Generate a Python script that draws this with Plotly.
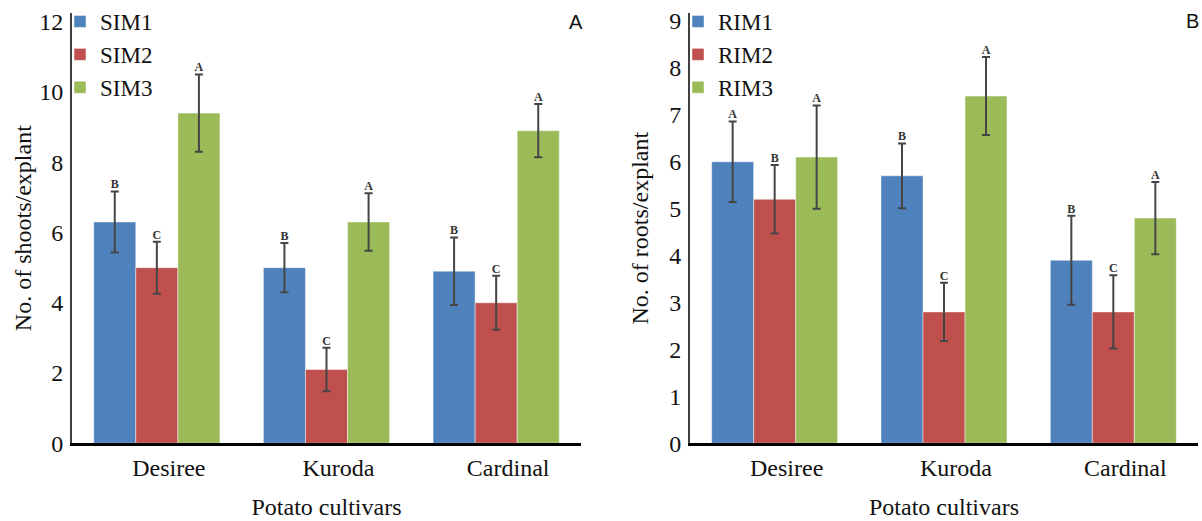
import plotly.graph_objects as go

cultivars = ["Desiree", "Kuroda", "Cardinal"]

# Panel A: shoots per explant
sim_names = ["SIM1", "SIM2", "SIM3"]
sim_values = [
    [6.3, 5.0, 4.9],
    [5.0, 2.1, 4.0],
    [9.4, 6.3, 8.9],
]
sim_errors = [
    [0.87, 0.70, 0.96],
    [0.74, 0.62, 0.77],
    [1.10, 0.82, 0.76],
]
sim_letters = [
    ["B", "B", "B"],
    ["C", "C", "C"],
    ["A", "A", "A"],
]

# Panel B: roots per explant
rim_names = ["RIM1", "RIM2", "RIM3"]
rim_values = [
    [6.0, 5.7, 3.9],
    [5.2, 2.8, 2.8],
    [6.1, 7.4, 4.8],
]
rim_errors = [
    [0.86, 0.69, 0.95],
    [0.73, 0.62, 0.78],
    [1.10, 0.83, 0.77],
]
rim_letters = [
    ["A", "B", "B"],
    ["B", "C", "C"],
    ["A", "A", "A"],
]

colors = ["#4F81BD", "#C0504D", "#9BBB59"]
SERIF = "Liberation Serif, Times New Roman, serif"
SANS = "Liberation Sans, Arial, sans-serif"
W, H = 1202, 521

fig = go.Figure()

def add_panel(names, values, errors, letters, xa, ya, legend):
    for i, name in enumerate(names):
        fig.add_trace(go.Bar(
            x=cultivars, y=values[i], name=name,
            marker=dict(color=colors[i], line=dict(color="rgba(255,255,255,0.45)", width=1)),
            error_y=dict(type="data", array=errors[i], color="#454545", thickness=2, width=4),
            offsetgroup=str(i), alignmentgroup=xa,
            xaxis=xa, yaxis=ya, legend=legend,
        ))
    for i, name in enumerate(names):
        tops = [v + e for v, e in zip(values[i], errors[i])]
        fig.add_trace(go.Scatter(
            x=cultivars, y=tops, mode="text", text=letters[i],
            textposition="top center",
            textfont=dict(family=SERIF, size=12, color="#333333", weight="bold"),
            offsetgroup=str(i), alignmentgroup=xa,
            xaxis=xa, yaxis=ya, showlegend=False, hoverinfo="skip",
        ))

add_panel(sim_names, sim_values, sim_errors, sim_letters, "x", "y", "legend")
add_panel(rim_names, rim_values, rim_errors, rim_letters, "x2", "y2", "legend2")

ydom = [(H - 443.3) / H, (H - 13) / H]

xaxis_common = dict(
    showline=True, linecolor="black", linewidth=3, showgrid=False, zeroline=False,
    ticks="", tickfont=dict(family=SERIF, size=24, color="#111"),
    ticklabelstandoff=1, ticklabelshift=12, automargin=False,
    title=dict(text="Potato cultivars", font=dict(family=SERIF, size=24, color="#111"), standoff=19),
    fixedrange=True,
)
yaxis_common = dict(
    showline=True, linecolor="#404040", linewidth=2, showgrid=False, zeroline=False,
    ticks="", tickfont=dict(family=SERIF, size=24, color="#111"),
    ticklabelstandoff=2, automargin=False,
    fixedrange=True,
)

fig.update_layout(
    template="none",
    width=W, height=H,
    margin=dict(l=0, r=0, t=0, b=0, autoexpand=False),
    paper_bgcolor="white", plot_bgcolor="white",
    barmode="group", bargap=0.256, bargroupgap=0,
    scattermode="group", scattergap=0.256,
    xaxis=dict(domain=[72 / W, 581 / W], anchor="y", **xaxis_common),
    xaxis2=dict(domain=[690 / W, 1198 / W], anchor="y2", **xaxis_common),
    yaxis=dict(domain=ydom, anchor="x", range=[0, 12.25], dtick=2,
               title=dict(text="No. of shoots/explant", font=dict(family=SERIF, size=24, color="#111"), standoff=1),
               **yaxis_common),
    yaxis2=dict(domain=ydom, anchor="x2", range=[0, 9.17], dtick=1,
                title=dict(text="No. of roots/explant", font=dict(family=SERIF, size=24, color="#111"), standoff=14),
                **yaxis_common),
    legend=dict(x=60 / W, y=1.0, xanchor="left", yanchor="top",
                font=dict(family=SERIF, size=23, color="#111"), bgcolor="rgba(0,0,0,0)",
                tracegroupgap=0, itemclick=False, itemdoubleclick=False),
    legend2=dict(x=678 / W, y=1.0, xanchor="left", yanchor="top",
                 font=dict(family=SERIF, size=23, color="#111"), bgcolor="rgba(0,0,0,0)",
                 tracegroupgap=0, itemclick=False, itemdoubleclick=False),
    annotations=[
        dict(text="A", x=576 / W, y=1 - 22 / H, xref="paper", yref="paper",
             xanchor="center", yanchor="middle",
             showarrow=False, font=dict(family=SANS, size=20, color="#111")),
        dict(text="B", x=1192 / W, y=1 - 21 / H, xref="paper", yref="paper",
             xanchor="center", yanchor="middle",
             showarrow=False, font=dict(family=SANS, size=20, color="#111")),
    ],
)

fig.write_html(
    "out.html",
    config={"displayModeBar": False},
    post_script="document.body.style.margin='0px';document.body.style.overflow='hidden';",
)
